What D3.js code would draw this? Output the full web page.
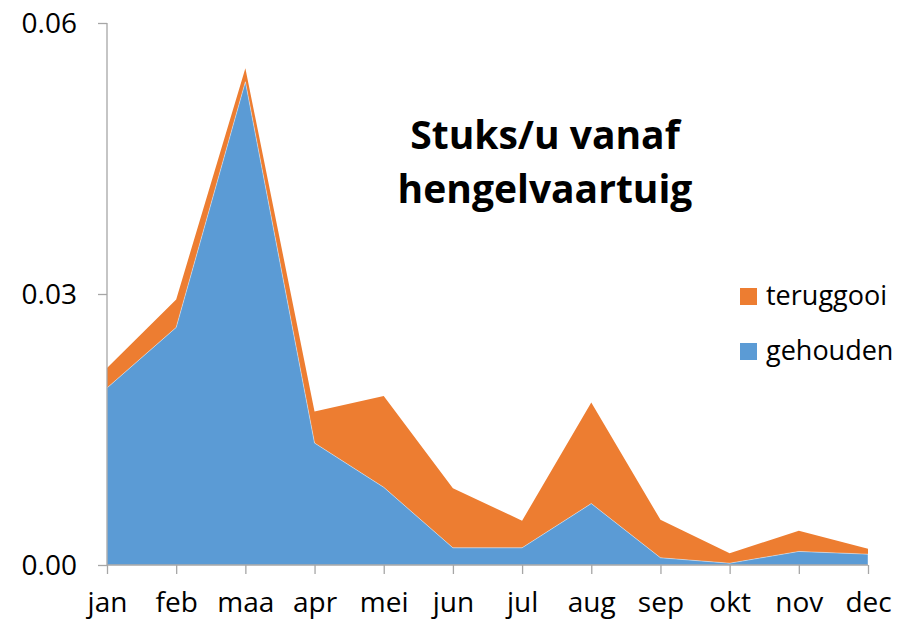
<!DOCTYPE html>
<html>
<head>
    <script src="https://d3js.org/d3.v7.min.js"></script>
    <style>
        body { margin: 0; padding: 0; background: #fff; }
        text { font-family: "Open Sans", "Noto Sans", sans-serif; fill: #000; }
    </style>
</head>
<body>
    <script>
        var months = ["jan", "feb", "maa", "apr", "mei", "jun", "jul", "aug", "sep", "okt", "nov", "dec"];
        var gehouden = [0.0196, 0.0263, 0.0535, 0.0135, 0.0086, 0.0019, 0.0019, 0.0068, 0.0008, 0.0002, 0.0015, 0.0012];
        var teruggooi = [0.0022, 0.0031, 0.0015, 0.0035, 0.0101, 0.0066, 0.0030, 0.0112, 0.0042, 0.0011, 0.0023, 0.0006];
        var yTicks = [0, 0.03, 0.06];
        var seriesNames = ["gehouden", "teruggooi"];
        var colors = { gehouden: "#5B9BD5", teruggooi: "#ED7D31" };

        var width = 902, height = 623;
        var svg = d3.select("body").append("svg")
            .attr("width", width)
            .attr("height", height);

        var x = d3.scalePoint().domain(months).range([107, 868]);
        var y = d3.scaleLinear().domain([0, 0.06]).range([565, 23]);

        var rows = months.map((m, i) => ({ month: m, gehouden: gehouden[i], teruggooi: teruggooi[i] }));
        var stacked = d3.stack().keys(seriesNames)(rows);

        var area = d3.area()
            .x(d => x(d.data.month))
            .y0(d => y(d[0]))
            .y1(d => y(d[1]));

        // orange first so blue sits on top with its thin white edge
        svg.selectAll("path.area")
            .data(stacked.slice().reverse())
            .enter().append("path")
            .attr("class", "area")
            .attr("d", area)
            .attr("fill", d => colors[d.key])
            .attr("stroke", d => d.key == "gehouden" ? "#fff" : "none")
            .attr("stroke-width", 0.6)
            .attr("stroke-opacity", 0.7);

        // y axis
        var yAxis = d3.axisLeft(y).tickValues(yTicks).tickFormat(d3.format(".2f")).tickSize(9).tickPadding(21);
        var gy = svg.append("g").attr("transform", "translate(107,0)").call(yAxis);
        gy.select(".domain").attr("stroke", "#A6A6A6").attr("stroke-width", 1.3).attr("d", "M0,23V565");
        gy.selectAll(".tick line").attr("stroke", "#A6A6A6").attr("stroke-width", 1.3);
        gy.selectAll(".tick text").style("font-size", "28px").attr("fill", "#000").attr("dy", "0.35em");

        // x axis
        var xAxis = d3.axisBottom(x).tickSize(9).tickPadding(18);
        var gx = svg.append("g").attr("transform", "translate(0,565)").call(xAxis);
        gx.select(".domain").attr("stroke", "#A6A6A6").attr("stroke-width", 1.3).attr("d", "M107,0H868");
        gx.selectAll(".tick line").attr("stroke", "#A6A6A6").attr("stroke-width", 1.3);
        gx.selectAll(".tick text").style("font-size", "28px").attr("fill", "#000");

        // title
        var title = svg.append("text")
            .attr("x", 545).attr("y", 149)
            .attr("text-anchor", "middle")
            .style("font-size", "39px").style("font-weight", "bold");
        title.append("tspan").attr("x", 545).attr("dy", 0).text("Stuks/u vanaf");
        title.append("tspan").attr("x", 545).attr("dy", 54).text("hengelvaartuig");

        // legend
        var legend = svg.append("g");
        ["teruggooi", "gehouden"].forEach((k, i) => {
            var g = legend.append("g").attr("transform", "translate(740," + (288 + i * 55) + ")");
            g.append("rect").attr("width", 17).attr("height", 17).attr("fill", colors[k]);
            g.append("text").attr("x", 26).attr("y", 17).style("font-size", "27px").text(k);
        });
    </script>
</body>
</html>
